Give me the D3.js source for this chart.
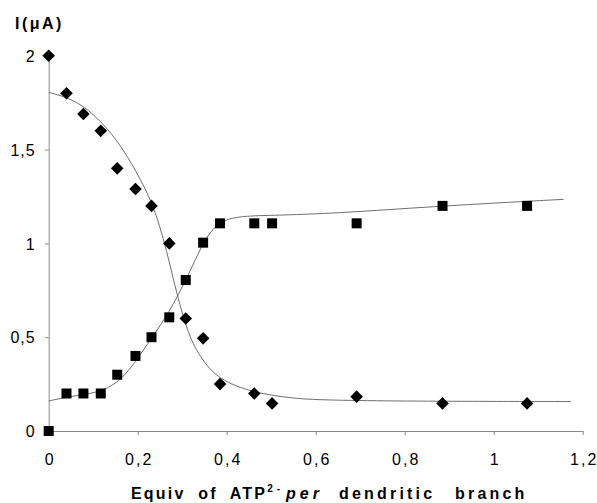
<!DOCTYPE html>
<html>
<head>
<meta charset="utf-8">
<script src="https://cdn.jsdelivr.net/npm/d3@7"></script>
<style>
  html, body { margin: 0; padding: 0; background: #fff; }
  svg { display: block; }
  text { font-family: "Liberation Sans", Arial, sans-serif; fill: #000; }
</style>
</head>
<body>
<svg id="chart" width="597" height="503"></svg>
<script>
// ---- data ----
const xValues = [0, 0.04, 0.078, 0.117, 0.154, 0.195, 0.231, 0.271, 0.308, 0.347, 0.385, 0.462, 0.502, 0.692, 0.885, 1.075];
const diamondValues = [2.0, 1.80, 1.69, 1.60, 1.40, 1.29, 1.20, 1.00, 0.60, 0.494, 0.25, 0.20, 0.147, 0.183, 0.147, 0.147];
const squareValues = [0, 0.20, 0.20, 0.20, 0.30, 0.40, 0.50, 0.606, 0.805, 1.004, 1.107, 1.107, 1.107, 1.107, 1.20, 1.20];

// fitted curves
const fitDownX = [0, 0.04, 0.08, 0.12, 0.16, 0.2, 0.23, 0.25, 0.265, 0.28, 0.295, 0.31, 0.325, 0.34, 0.36, 0.38, 0.41, 0.45, 0.5, 0.55, 0.6, 0.75, 0.95, 1.174];
const fitDownY = [1.805, 1.78, 1.73, 1.645, 1.53, 1.37, 1.23, 1.09, 0.96, 0.81, 0.67, 0.55, 0.46, 0.40, 0.335, 0.29, 0.25, 0.215, 0.19, 0.175, 0.166, 0.16, 0.158, 0.157];
const fitUpX = [0, 0.04, 0.08, 0.115, 0.15, 0.18, 0.205, 0.23, 0.25, 0.27, 0.29, 0.31, 0.33, 0.35, 0.37, 0.39, 0.42, 0.46, 0.55, 0.68, 0.885, 1.157];
const fitUpY = [0.16, 0.18, 0.195, 0.21, 0.25, 0.32, 0.405, 0.49, 0.56, 0.635, 0.72, 0.815, 0.915, 1.015, 1.08, 1.12, 1.14, 1.148, 1.152, 1.166, 1.2, 1.235];

const xTicks = [0, 0.2, 0.4, 0.6, 0.8, 1, 1.2];
const xTickLabels = ["0", "0,2", "0,4", "0,6", "0,8", "1", "1,2"];
const yTicks = [0, 0.5, 1, 1.5, 2];
const yTickLabels = ["0", "0,5", "1", "1,5", "2"];

// ---- scales ----
const svg = d3.select("#chart");
const x = d3.scaleLinear().domain([0, 1.2]).range([48.7, 582.7]);
const y = d3.scaleLinear().domain([0, 2]).range([431, 55.8]);

const axisColor = "#8a8a8a";
const fontFam = '"Liberation Sans", Arial, sans-serif';

// x axis
const gx = svg.append("g").attr("transform", `translate(0,${y(0)})`)
  .call(d3.axisBottom(x).tickValues(xTicks).tickSize(4).tickSizeOuter(0)
    .tickFormat((d, i) => xTickLabels[i]));
gx.select(".domain").attr("stroke", axisColor);
gx.selectAll(".tick line").attr("stroke", axisColor);
gx.selectAll(".tick text")
  .attr("y", 0).attr("dy", null)
  .attr("transform", "translate(1,34)")
  .style("font-size", "16px").style("letter-spacing", "2px")
  .style("font-family", fontFam);

// y axis
const gy = svg.append("g").attr("transform", `translate(${x(0)},0)`)
  .call(d3.axisLeft(y).tickValues(yTicks).tickSize(4).tickSizeOuter(0)
    .tickFormat((d, i) => yTickLabels[i]));
gy.select(".domain").attr("stroke", axisColor);
gy.selectAll(".tick line").attr("stroke", axisColor);
gy.selectAll(".tick text")
  .attr("x", -13).attr("dy", "0.36em")
  .style("font-size", "16px").style("letter-spacing", "1px")
  .style("font-family", fontFam);

// fit lines
const line = d3.line().x(d => x(d[0])).y(d => y(d[1])).curve(d3.curveBasis);
svg.append("path").datum(d3.zip(fitDownX, fitDownY))
  .attr("d", line).attr("fill", "none").attr("stroke", "#6e6e6e").attr("stroke-width", 1);
svg.append("path").datum(d3.zip(fitUpX, fitUpY))
  .attr("d", line).attr("fill", "none").attr("stroke", "#6e6e6e").attr("stroke-width", 1);

// markers
svg.append("g").selectAll("path").data(d3.zip(xValues, diamondValues)).join("path")
  .attr("transform", d => `translate(${x(d[0])},${y(d[1])})`)
  .attr("d", "M0,-6.3L6.3,0L0,6.3L-6.3,0Z").attr("fill", "#000");
svg.append("g").selectAll("rect").data(d3.zip(xValues, squareValues)).join("rect")
  .attr("x", d => x(d[0]) - 5).attr("y", d => y(d[1]) - 5)
  .attr("width", 10).attr("height", 10).attr("fill", "#000");

// y label
svg.append("text").attr("x", 15).attr("y", 29)
  .style("font-weight", "bold").style("font-size", "16px").style("letter-spacing", "2.5px")
  .text("I(μA)");

// x title
const t = svg.append("text").attr("x", 131).attr("y", 499)
  .style("font-weight", "bold").style("font-size", "16px").style("letter-spacing", "2.2px")
  .style("word-spacing", "6px");
t.append("tspan").text("Equiv of ATP");
t.append("tspan").attr("dy", -7).attr("dx", 0).style("font-size", "10px").style("letter-spacing", "0px").text("2");
t.append("tspan").attr("dx", 4).style("font-size", "10px").style("letter-spacing", "0px").text("-");
t.append("tspan").attr("dy", 7).attr("dx", 6).style("font-style", "italic").style("letter-spacing", "4px").text("per");
t.append("tspan").attr("dx", 16).style("letter-spacing", "3.2px").style("word-spacing", "12px").text("dendritic branch");
</script>
</body>
</html>
